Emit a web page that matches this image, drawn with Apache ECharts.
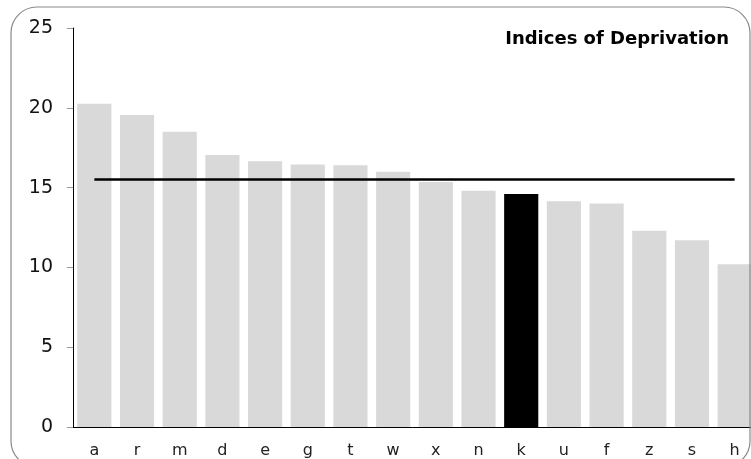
<!DOCTYPE html>
<html>
<head>
<meta charset="utf-8">
<script src="https://cdn.jsdelivr.net/npm/echarts@6/dist/echarts.min.js"></script>
<style>
    html, body { margin: 0; padding: 0; background: #fff; }
    #chart { width: 751px; height: 459px; }
</style>
</head>
<body>
<div id="chart"></div>
<script>
// areas, sorted high to low
var categories = ['a', 'r', 'm', 'd', 'e', 'g', 't', 'w', 'x', 'n', 'k', 'u', 'f', 'z', 's', 'h'];
var scores = [20.25, 19.55, 18.5, 17.05, 16.65, 16.45, 16.4, 16.0, 15.35, 14.8, 14.6, 14.15, 14.0, 12.3, 11.7, 10.2];
var average = 15.5;
var highlight = 'k';
var yTicks = [0, 5, 10, 15, 20, 25];

var chart = echarts.init(document.getElementById('chart'));

// bars: grey, the highlighted area in black
var barData = [];
var lineData = [];
for (var i = 0; i < categories.length; i++) {
    barData.push({
        value: scores[i],
        itemStyle: { color: categories[i] == highlight ? '#000000' : '#d9d9d9' }
    });
    lineData.push(average);
}

var option = {
    animation: false,
    textStyle: { fontFamily: 'DejaVu Sans' },
    title: {
        text: 'Indices of Deprivation',
        right: 17,
        top: 25,
        textStyle: { fontSize: 18, fontWeight: 'bold', color: '#000', fontFamily: 'DejaVu Sans' }
    },
    // plot runs a little past the right edge of the canvas
    grid: { left: 73, width: 683, top: 28, bottom: 32, containLabel: false, outerBoundsMode: 'none' },
    xAxis: {
        type: 'category',
        data: categories,
        axisLine: { lineStyle: { color: '#000', width: 1 } },
        axisTick: { show: false },
        axisLabel: { color: '#222', fontSize: 16, margin: 16 }
    },
    yAxis: {
        type: 'value',
        min: yTicks[0],
        max: yTicks[yTicks.length - 1],
        interval: 5,
        axisLine: { show: true, lineStyle: { color: '#000', width: 1 } },
        axisTick: { show: true, length: 6, lineStyle: { color: '#999' } },
        axisLabel: { color: '#111', fontSize: 19, margin: 20 },
        splitLine: { show: false }
    },
    series: [
        {
            type: 'bar',
            data: barData,
            barCategoryGap: '20%'
        },
        {
            type: 'line',
            data: lineData,
            symbol: 'none',
            lineStyle: { color: '#000', width: 2.5 },
            z: 5
        }
    ],
    graphic: [{
        type: 'rect',
        shape: { x: 11, y: 7, width: 739, height: 460, r: 26 },
        style: { fill: 'none', stroke: '#8a8a8a', lineWidth: 1.2 },
        z: 100,
        silent: true
    }]
};
chart.setOption(option);
</script>
</body>
</html>
